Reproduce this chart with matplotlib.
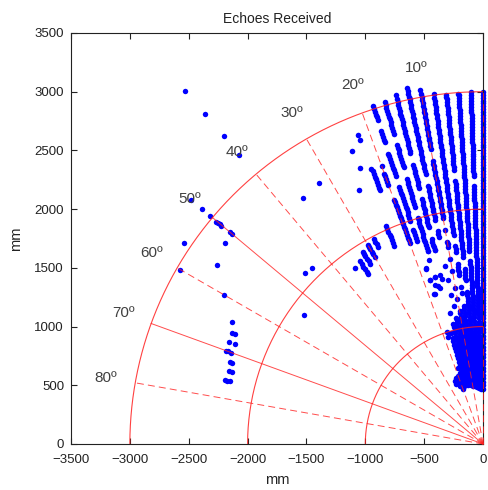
import numpy as np
import matplotlib
matplotlib.use("Agg")
import matplotlib.pyplot as plt

plt.rcParams['font.family'] = ['Liberation Sans', 'DejaVu Sans']
plt.rcParams['lines.scale_dashes'] = False

# sonar beams: angle from the y axis (deg) and echo ranges (mm)
beam_deg = [0, 2, 4, 6, 8, 10, 12, 14, 16, 18, 20, 22, 24, 26, 28, 30, 32, 34, 36]
beam_r = [
    [470, 500, 530, 560, 590, 620, 650, 680, 710, 740, 770, 800, 830, 860, 890, 920, 950, 980, 1010, 1040,
     1070, 1100, 1125, 1150, 1175, 1200, 1225, 1250, 1275, 1300, 1325, 1350, 1375, 1400, 1425, 1450, 1475,
     1500, 1525, 1550, 1575, 1600, 1625, 1650, 1675, 1700, 1725, 1750, 1775, 1800, 1825, 1850, 1875, 1900,
     1925, 1950, 1975, 2000, 2025, 2050, 2075, 2100, 2125, 2150, 2175, 2200, 2225, 2250, 2275, 2300, 2325,
     2350, 2375, 2400, 2425, 2450, 2475, 2500, 2525, 2550, 2575, 2600, 2625, 2650, 2675, 2700, 2725, 2750,
     2775, 2800, 2825, 2850, 2875, 2900, 2925, 2950, 2975, 2995],
    [470, 500, 530, 560, 590, 620, 650, 680, 710, 740, 770, 800, 830, 860, 890, 920, 950, 980, 1010, 1040,
     1070, 1100, 1125, 1150, 1175, 1200, 1225, 1250, 1275, 1300, 1325, 1350, 1375, 1400, 1425, 1450, 1475,
     1500, 1525, 1550, 1575, 1600, 1625, 1650, 1675, 1700, 1725, 1750, 1775, 1800, 1825, 1850, 1875, 1900,
     1925, 1950, 1975, 2000, 2025, 2050, 2075, 2100, 2125, 2150, 2175, 2200, 2280, 2300, 2325,
     2350, 2375, 2400, 2425, 2450, 2475, 2500, 2525, 2550, 2575, 2600, 2625, 2650, 2675, 2700, 2725, 2750,
     2775, 2800, 2825, 2850, 2875, 2900, 2925, 2950, 2975, 2995],
    [480, 510, 540, 570, 600, 630, 660, 690, 720, 750, 780, 810, 840, 870, 900, 930, 960, 990, 1020, 1050,
     1080, 1110, 1135, 1160, 1185, 1210, 1235, 1260, 1285, 1310, 1335, 1360, 1385, 1410, 1435, 1460, 1485,
     1510, 1535, 1560, 1650, 1675, 1700, 1725, 1750, 1775, 1800, 1825, 1850, 1875, 1900,
     1925, 1950, 1975, 2000, 2025, 2050, 2075, 2100, 2125, 2150, 2175, 2200, 2225, 2250, 2275, 2300, 2325,
     2350, 2375, 2400, 2425, 2450, 2475, 2500, 2525, 2550, 2575, 2600, 2625, 2650, 2675, 2700, 2725, 2750,
     2775, 2800, 2825, 2850, 2875, 2900, 2925, 2950, 2975, 2990],
    [490, 520, 550, 580, 610, 640, 670, 700, 730, 760, 790, 820, 850, 880, 910, 940, 970, 1000, 1030, 1060,
     1090, 1120, 1150, 1175, 1200, 1225, 1250, 1275, 1300, 1400, 1425, 1450, 1475, 1500, 1600, 1625, 1650,
     1675, 1700, 1725, 1750, 1775, 1800, 1825, 1850, 1875, 1900, 1925, 1950, 1975, 2000, 2025, 2050, 2075,
     2100, 2125, 2150, 2175, 2200, 2225, 2250, 2350, 2375, 2400, 2425, 2450, 2475, 2500, 2525, 2550, 2575,
     2600, 2625, 2650, 2675, 2700, 2725, 2750, 2775, 2800, 2825, 2850, 2875, 2900, 2925, 2950, 2975, 2990],
    [500, 530, 560, 590, 620, 650, 680, 710, 740, 770, 800, 830, 860, 890, 920, 950, 980, 1010, 1040, 1070,
     1100, 1130, 1160, 1190, 1300, 1350, 1450, 1475, 1500, 1525, 1550, 1650, 1675, 1700, 1800, 1825, 1850,
     1875, 1900, 1925, 1950, 1975, 2000, 2025, 2050, 2075, 2100, 2125, 2150, 2175, 2200, 2225, 2250, 2275,
     2300, 2325, 2350, 2375, 2400, 2425, 2450, 2475, 2500, 2525, 2550, 2575, 2600, 2625, 2650, 2675, 2700,
     2725, 2750, 2775, 2800, 2825, 2850, 2875, 2900, 2925, 2950, 2975, 3010],
    [500, 530, 560, 590, 620, 650, 680, 710, 740, 770, 800, 830, 860, 890, 920, 950, 980, 1010, 1040, 1070,
     1100, 1130, 1150, 1250, 1350, 1500, 1600, 1700, 1725, 1750, 1850, 1950, 1975, 2000, 2025, 2050, 2075,
     2100, 2125, 2150, 2175, 2200, 2225, 2250, 2275, 2300, 2325, 2350, 2375, 2400, 2425, 2450, 2550, 2575,
     2600, 2625, 2650, 2675, 2700, 2725, 2750, 2775, 2800, 2825, 2850, 2875, 2900, 2925, 2950, 2975, 3000,
     3025, 3060],
    [510, 540, 570, 600, 630, 660, 690, 720, 750, 780, 810, 840, 870, 900, 930, 960, 990, 1020, 1050, 1080,
     1100, 1200, 1300, 1550, 1800, 1825, 1850, 1950, 1975, 2000, 2025, 2050, 2075, 2100, 2125, 2150, 2175,
     2200, 2225, 2250, 2350, 2375, 2400, 2425, 2450, 2475, 2500, 2525, 2550, 2575, 2600, 2625, 2650, 2675,
     2700, 2725, 2750, 2775, 2800, 2825, 2850, 2875, 2900, 2925, 2950, 2975, 3000, 3025, 3050, 3075, 3100],
    [520, 550, 580, 610, 640, 670, 700, 730, 760, 790, 820, 850, 880, 910, 940, 970, 1000, 1025, 1050, 1150,
     1450, 1700, 1725, 1750, 1775, 1800, 1900, 1925, 1950, 1975, 2000, 2025, 2050, 2075, 2100, 2125, 2150,
     2250, 2275, 2300, 2325, 2350, 2375, 2400, 2425, 2450, 2550, 2575, 2600, 2625, 2650, 2675, 2700, 2725,
     2750, 2775, 2800, 2825, 2850, 2875, 2900, 2925, 2950, 2975, 3000, 3030, 3060],
    [520, 550, 580, 610, 640, 670, 700, 730, 760, 790, 820, 850, 880, 910, 940, 980, 1400, 1480, 1710, 1735,
     1760, 1785, 1810, 1835, 1860, 1885, 1910, 1935, 1960, 1985, 2000, 2100, 2125, 2150, 2175, 2200, 2225,
     2250, 2275, 2300, 2325, 2350, 2450, 2475, 2500, 2525, 2550, 2575, 2600, 2625, 2650, 2750, 2775, 2800,
     2825, 2850, 2875, 2900, 2925, 2950, 2975, 3000, 3030],
    [520, 550, 580, 610, 640, 680, 960, 1000, 1340, 1470, 1570, 1820, 1845, 1870, 1895, 1920, 2000, 2025,
     2050, 2075, 2100, 2125, 2150, 2175, 2200, 2225, 2250, 2275, 2300, 2400, 2425, 2450, 2475, 2500, 2525,
     2550, 2575, 2600, 2700, 2725, 2750, 2775, 2800, 2900, 2925, 2950, 2975, 3000, 3030],
    [500, 530, 560, 590, 620, 1820, 1845, 1870, 1895, 1920, 1945, 1970, 1995, 2020, 2045, 2070, 2095, 2120,
     2145, 2170, 2190, 2210, 2350, 2375, 2400, 2425, 2450, 2520],
    [530, 560, 590, 610, 2330, 2355, 2380, 2405, 2430, 2455, 2480, 2505, 2530, 2790, 2840],
    [560, 590, 1850, 1875, 1900, 1925, 1950, 1975, 2000, 2030, 2577, 2729],
    [2404],
    [1900, 1925, 1950, 1980],
    [1840, 1865, 1890, 1915, 1940, 1960],
    [1810, 1835, 1860, 1885, 1910, 1930],
    [1745, 1770, 1795, 1820, 1845, 1875],
    [1852],
]

# stray echoes (mm)
stray_x = [-2534, -2365, -2203, -2073, -2483, -2387, -2322, -2265, -2251, -2237, -2223, -2152, -2129, -2540,
           -2195, -2260, -2577, -2203, -2133, -2133, -2104, -2158, -2104, -2180, -2166, -2138, -2152, -2129,
           -2158, -2135, -2195, -2175, -2152, -1390, -1529, -1509, -1450, -1521,
           -467, -410, -459, -487, -453, -410, -368, -410, -368, -410, -297]
stray_y = [3009, 2814, 2626, 2464, 2081, 2002, 1945, 1894, 1884, 1874, 1860, 1808, 1789, 1715,
           1715, 1525, 1482, 1269, 1042, 943, 937, 869, 852, 795, 792, 772, 696, 690,
           622, 611, 545, 539, 537, 2226, 2098, 1454, 1502, 1099,
           1647, 1652, 1567, 1497, 1397, 1425, 1440, 1354, 1326, 1275, 1397]

arc_r = [1000, 2000, 3000]
ray_deg = [0, 10, 20, 30, 40, 50, 60, 70, 80]
ray_solid = [50, 70]
label_deg = [10, 20, 30, 40, 50, 60, 70, 80]

fig = plt.figure(figsize=(4.88, 4.90), dpi=100)
ax = fig.add_axes([0.1455, 0.0939, 0.8443, 0.8388])

ex, ey = [], []
for d, rs in zip(beam_deg, beam_r):
    t = np.radians(d)
    ex.extend(-np.array(rs) * np.sin(t))
    ey.extend(np.array(rs) * np.cos(t))
ax.plot(ex, ey, 'o', color='#0000ff', ms=4.0, mec='none', clip_on=False, zorder=2)
ax.plot(stray_x, stray_y, 'o', color='#0000ff', ms=3.9, mec='none', zorder=2)

phi = np.radians(np.arange(0, 90.5, 0.5))
for r in arc_r:
    ax.plot(-r * np.sin(phi), r * np.cos(phi), '-', color='#ff2020', lw=0.8, alpha=0.85, zorder=3)

for d in ray_deg:
    t = np.radians(d)
    ls = '-' if d in ray_solid else (0, (5, 3))
    ax.plot([0, -3000 * np.sin(t)], [0, 3000 * np.cos(t)], color='#ff2020', lw=0.7, alpha=0.8,
            linestyle=ls, zorder=3, clip_on=False)

for d in label_deg:
    t = np.radians(d)
    ax.text(-3250 * np.sin(t), 3250 * np.cos(t), '%dº' % d, ha='center', va='center',
            fontsize=11, color='#404040')

ax.set_xlim(-3500, 0)
ax.set_ylim(0, 3500)
ax.set_xticks(np.arange(-3500, 1, 500))
ax.set_yticks(np.arange(0, 3501, 500))
ax.tick_params(direction='in', top=True, right=True, length=4, labelsize=9.5, colors='#222222')
ax.tick_params(axis='x', pad=7)
ax.tick_params(axis='y', pad=5)
for s in ax.spines.values():
    s.set_color('#222222')
    s.set_linewidth(0.8)
ax.set_xlabel('mm', fontsize=10.5, color='#222222', labelpad=5)
ax.set_ylabel('mm', fontsize=10.5, color='#222222', labelpad=8)
ax.set_title('Echoes Received', fontsize=10, color='#222222', pad=7)

fig.savefig('out.png', dpi=100)
